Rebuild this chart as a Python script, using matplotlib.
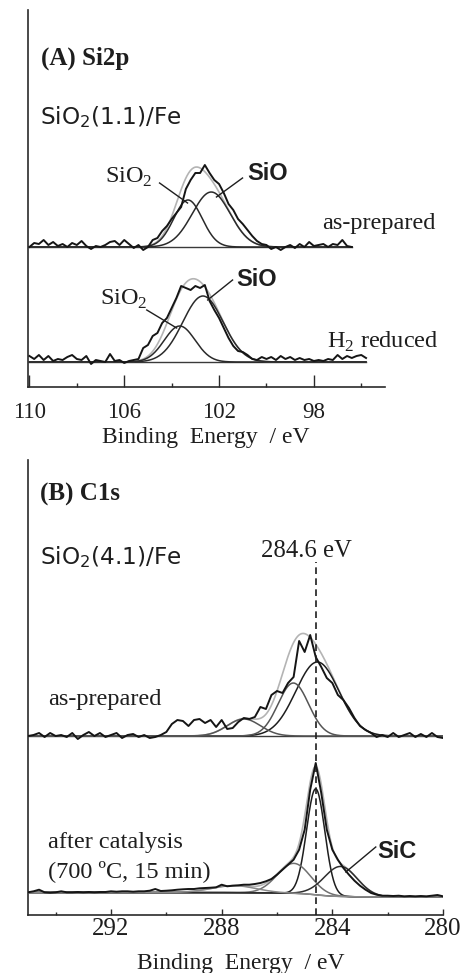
import numpy as np
import matplotlib
matplotlib.use("Agg")
import matplotlib.pyplot as plt

# ---------------- data ----------------
# Panel A: Si2p, SiO2(1.1)/Fe  -- binding energies (eV)
A_E = [110.0, 109.8, 109.6, 109.4, 109.2, 109.0, 108.8, 108.6, 108.4, 108.2,
       108.0, 107.8, 107.6, 107.4, 107.2, 107.0, 106.8, 106.6, 106.4, 106.2,
       106.0, 105.8, 105.6, 105.4, 105.2, 105.0, 104.8, 104.6, 104.4, 104.2,
       104.0, 103.8, 103.6, 103.4, 103.2, 103.0, 102.8, 102.6, 102.4, 102.2,
       102.0, 101.8, 101.6, 101.4, 101.2, 101.0, 100.8, 100.6, 100.4, 100.2,
       100.0, 99.8, 99.6, 99.4, 99.2, 99.0, 98.8, 98.6, 98.4, 98.2,
       98.0, 97.8, 97.6, 97.4, 97.2, 97.0, 96.8, 96.6, 96.4, 96.2,
       96.0, 95.8]
A_ASPREP = [0, 4, 3, 7, 2, 5, 1, 3, 0, 4,
            2, 6, 1, -2, 1, 0, 2, 5, 6, 2,
            7, 3, -1, 2, -3, 0, 7, 9, 16, 21,
            28, 34, 40, 58, 67, 74, 74, 82, 74, 67,
            63, 54, 43, 37, 28, 23, 17, 11, 6, 3,
            2, -2, 0, -3, 0, 2, -1, 3, 0, 5,
            1, 2, 3, 0, 3, 2, 7, 1, 0]
A_H2 = [6, 3, 7, 2, 6, 1, 3, 2, 5, 7,
        3, 2, 6, -2, 2, 1, 0, 8, 1, 2,
        -1, 1, 2, 3, 14, 17, 26, 29, 39, 44,
        54, 64, 76, 74, 72, 76, 74, 77, 61, 52,
        44, 34, 24, 16, 11, 10, 7, 3, 2, 5,
        3, 5, 2, 6, 3, 5, 2, 4, 2, 3,
        1, 2, 1, 3, 2, 7, 3, 6, 4, 6,
        7, 4]
# fitted components: (centre eV, height, sigma eV)
A_ASPREP_FIT = [(103.31, 47, 0.60), (102.33, 55, 0.80)]
A_H2_FIT = [(103.66, 36, 0.65), (102.68, 66, 0.85)]
A_TICKS = [110, 106, 102, 98]
A_MINOR = [108, 104, 100, 96]

# Panel B: C1s, SiO2(4.1)/Fe
B_E = [295.0, 294.8, 294.6, 294.4, 294.2, 294.0, 293.8, 293.6, 293.4, 293.2,
       293.0, 292.8, 292.6, 292.4, 292.2, 292.0, 291.8, 291.6, 291.4, 291.2,
       291.0, 290.8, 290.6, 290.4, 290.2, 290.0, 289.8, 289.6, 289.4, 289.2,
       289.0, 288.8, 288.6, 288.4, 288.2, 288.0, 287.8, 287.6, 287.4, 287.2,
       287.0, 286.8, 286.6, 286.4, 286.2, 286.0, 285.8, 285.6, 285.4, 285.2,
       285.0, 284.8, 284.6, 284.4, 284.2, 284.0, 283.8, 283.6, 283.4, 283.2,
       283.0, 282.8, 282.6, 282.4, 282.2, 282.0, 281.8, 281.6, 281.4, 281.2,
       281.0, 280.8, 280.6, 280.4, 280.2, 280.0]
B_ASPREP = [0, 1, 3, -1, 3, 0, 1, -1, 3, -3,
            1, 4, 0, 3, -1, 1, 3, -2, 1, 2,
            -1, 1, -2, -1, 1, 4, 12, 16, 15, 10,
            16, 17, 13, 16, 9, 16, 7, 8, 14, 18,
            17, 19, 29, 27, 41, 45, 43, 53, 59, 95,
            84, 101, 79, 69, 58, 53, 41, 36, 28, 18,
            10, 6, 3, -1, 1, -1, 3, -1, 1, 3,
            -1, 2, -1, 3, -1, -2]
B_AFTER = [4.7, 5.7, 7.3, 4.7, 4.3, 4.7, 5.7, 4.7, 4.7, 5.0,
           4.7, 5.0, 4.7, 5.0, 5.0, 5.7, 5.3, 5.7, 5.7, 5.3,
           5.7, 5.7, 6.3, 8.0, 6.0, 6.3, 6.7, 7.3, 7.7, 8.0,
           8.0, 8.7, 9.0, 9.3, 9.7, 12.3, 10.7, 11.3, 11.7, 12.3,
           12.3, 13.0, 14.0, 15.7, 18.0, 22.3, 27.3, 32.3, 37.3, 47.3,
           67.3, 107.3, 134.0, 104.0, 67.3, 47.3, 37.3, 29.0, 22.3, 16.3,
           11.3, 7.3, 4.0, 2.3, 1.3, 1.3, 1.0, 1.3, 0.7, 1.0,
           0.7, 1.0, 0.7, 1.3, 2.0, 0.7]
B_ASPREP_FIT = [(284.54, 74, 0.78), (285.41, 53, 0.55), (287.20, 17, 0.60)]
B_AFTER_FIT = [(284.60, 106, 0.33), (285.39, 30, 0.60), (283.70, 30, 0.60), (287.56, 7, 0.80)]
B_AFTER_BG = (0.0, 4.5)   # Shirley background: low-BE end, high-BE end
B_TICKS = [292, 288, 284, 280]
B_MINOR = [294, 290, 286, 282]
REF_LINE = 284.6

# ---------------- style ----------------
SERIF = "Liberation Serif"
SANS = "DejaVu Sans"
BSANS = "Liberation Sans"
TXT = "#1e1e1e"
W, H = 466, 973

fig = plt.figure(figsize=(W / 100, H / 100), dpi=100)
fig.patch.set_facecolor("white")


def px_axes(l, t, r, b):
    return fig.add_axes([l / W, 1 - b / H, (r - l) / W, (b - t) / H])


def ftext(x, y, s, **kw):
    kw.setdefault("color", TXT)
    fig.text(x / W, 1 - y / H, s, va="baseline", ha="left", **kw)


def gauss(e, c, h, s):
    return h * np.exp(-(e - c) ** 2 / (2 * s ** 2))


def style_axes(ax, xlim, ylim, ticks, minor, maj_len, min_len, lsize, pad):
    ax.set_xlim(*xlim)
    ax.set_ylim(*ylim)
    for sp in ("top", "right"):
        ax.spines[sp].set_visible(False)
    for sp in ("left", "bottom"):
        ax.spines[sp].set_linewidth(1.2)
        ax.spines[sp].set_color("#2a2a2a")
    ax.set_yticks([])
    ax.set_xticks(ticks)
    ax.set_xticks(minor, minor=True)
    ax.set_xticklabels([str(t) for t in ticks], fontfamily=SERIF, fontsize=lsize, color=TXT)
    ax.tick_params(axis="x", which="major", direction="in", length=maj_len, width=1.0,
                   color="#2a2a2a", pad=pad)
    ax.tick_params(axis="x", which="minor", direction="in", length=min_len, width=1.0,
                   color="#2a2a2a")
    ax.set_facecolor("none")


def draw_spectrum(ax, e, y, fits, offset, comp_colors, e_fine, bg=None):
    e_fine = np.asarray(e_fine)
    comps = [gauss(e_fine, *p) for p in fits]
    total = np.sum(comps, axis=0)
    if bg is None:
        back = np.zeros_like(e_fine)
    else:
        order = np.argsort(e_fine)
        cum = np.cumsum(total[order])
        frac = np.empty_like(cum)
        frac[order] = cum / cum[-1]
        back = bg[0] + (bg[1] - bg[0]) * frac
    ax.plot(e_fine, back + offset, color="#3a3a3a", lw=1.0, zorder=2)
    for c, col in zip(comps, comp_colors):
        ax.plot(e_fine, c + back + offset, color=col, lw=1.1, zorder=3)
    ax.plot(e_fine, total + back + offset, color="#b4b4b4", lw=1.2, zorder=2.5)
    ax.plot(e, np.asarray(y) + offset, color="#151515", lw=1.4, zorder=4)


# ---------------- Panel A ----------------
axA = px_axes(28, 10, 385, 387)
style_axes(axA, (110.06, 95.0), (0, 377), A_TICKS, A_MINOR, 9.0, 3.0, 16.5, 10.5)
eA1 = np.linspace(110.0, 96.4, 400)
eA2 = np.linspace(110.0, 95.8, 400)
draw_spectrum(axA, A_E[:len(A_ASPREP)], A_ASPREP, A_ASPREP_FIT, 140,
              ["#2a2a2a", "#2a2a2a"], eA1)
draw_spectrum(axA, A_E[:len(A_H2)], A_H2, A_H2_FIT, 25,
              ["#2a2a2a", "#2a2a2a"], eA2)
# leader lines
axA.plot([104.51, 103.33], [204, 184], color="#1e1e1e", lw=1.0, zorder=5)
axA.plot([101.01, 102.11], [209, 190], color="#1e1e1e", lw=1.0, zorder=5)
axA.plot([105.05, 103.79], [77, 59], color="#1e1e1e", lw=1.0, zorder=5)
axA.plot([101.43, 102.48], [107, 87], color="#1e1e1e", lw=1.0, zorder=5)

ftext(41, 65, "(A) Si2p", fontfamily=SERIF, fontweight="bold", fontsize=18)
ftext(40, 124, "SiO$_\\mathregular{2}$(1.1)/Fe", fontfamily=SANS, fontsize=16.7)
ftext(105, 183, "SiO$_\\mathregular{2}$", fontfamily=SERIF, fontsize=17.5)
ftext(247, 180, "SiO", fontfamily=BSANS, fontweight="bold", fontsize=17)
ftext(322, 229, "as-prepared", fontfamily=SERIF, fontsize=17.5)
ftext(100, 305, "SiO$_\\mathregular{2}$", fontfamily=SERIF, fontsize=17.5)
ftext(236, 286, "SiO", fontfamily=BSANS, fontweight="bold", fontsize=17)
ftext(327, 348, "H$_\\mathregular{2}$ reduced", fontfamily=SERIF, fontsize=17.5)
fig.text(206 / W, 1 - 443 / H, "Binding  Energy  / eV", fontfamily=SERIF, fontsize=17,
         ha="center", va="baseline", color=TXT)

# ---------------- Panel B ----------------
axB = px_axes(28, 460, 443, 915)
style_axes(axB, (295.0, 280.0), (0, 455), B_TICKS, B_MINOR, 4.5, 2.2, 18, 2)
eB = np.linspace(295.0, 280.0, 600)
draw_spectrum(axB, B_E, B_ASPREP, B_ASPREP_FIT, 179,
              ["#1e1e1e", "#555555", "#555555"], eB)
draw_spectrum(axB, B_E, B_AFTER, B_AFTER_FIT, 18,
              ["#1e1e1e", "#707070", "#2e2e2e", "#8a8a8a"], eB, bg=B_AFTER_BG)
axB.plot([REF_LINE, REF_LINE], [0, 353], color="#1e1e1e", lw=1.2,
         dashes=(4, 2.6), zorder=6)
axB.plot([282.43, 283.51], [68, 43], color="#1e1e1e", lw=1.0, zorder=5)

ftext(40, 501, "(B) C1s", fontfamily=SERIF, fontweight="bold", fontsize=18)
ftext(40, 564, "SiO$_\\mathregular{2}$(4.1)/Fe", fontfamily=SANS, fontsize=16.7)
ftext(261, 557, "284.6 eV", fontfamily=SERIF, fontsize=17.8)
ftext(48, 705, "as-prepared", fontfamily=SERIF, fontsize=17.5)
ftext(48, 848, "after catalysis", fontfamily=SERIF, fontsize=17.5)
ftext(48, 877, "(700 \u00baC, 15 min)", fontfamily=SERIF, fontsize=17.5)
ftext(377, 858, "SiC", fontfamily=BSANS, fontweight="bold", fontsize=17)
fig.text(241 / W, 1 - 969 / H, "Binding  Energy  / eV", fontfamily=SERIF, fontsize=17,
         ha="center", va="baseline", color=TXT)

fig.savefig("out.png", dpi=100, facecolor="white")
